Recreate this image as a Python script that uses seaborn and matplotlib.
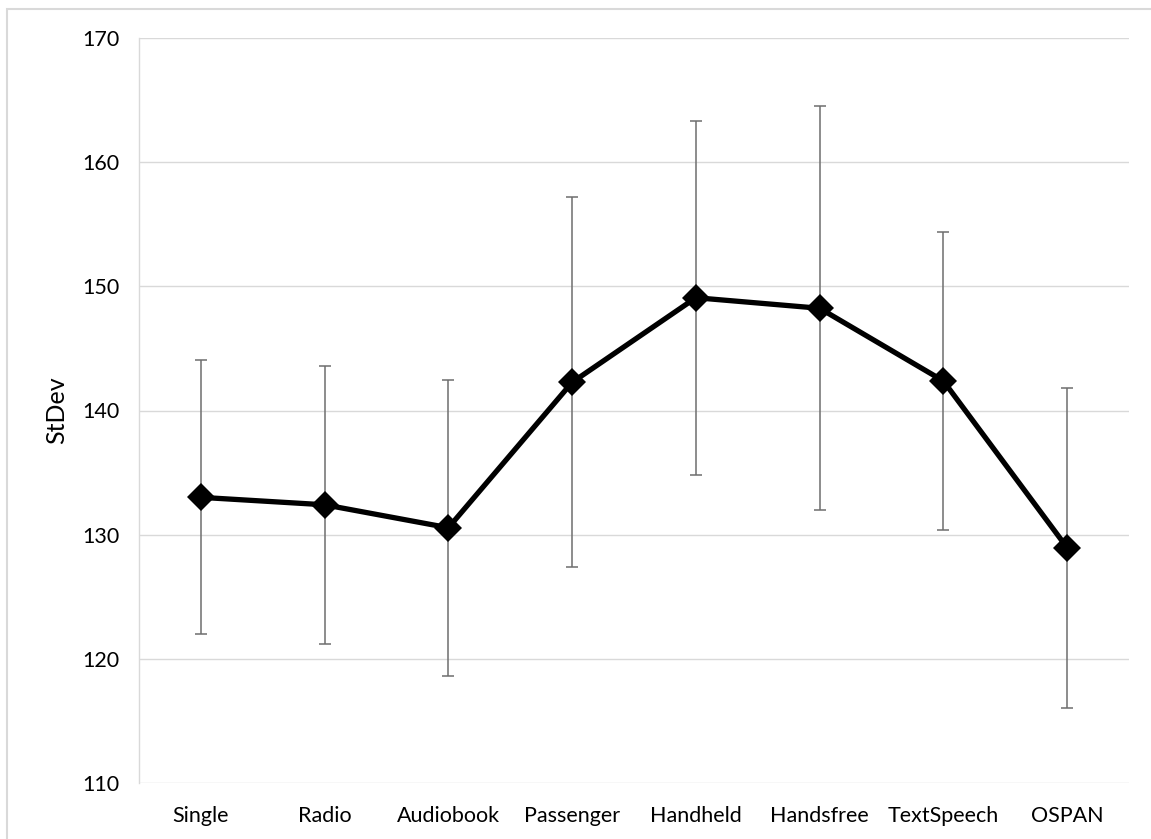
import matplotlib
matplotlib.use("Agg")
import matplotlib.pyplot as plt
import seaborn as sns
import pandas as pd
from matplotlib.patches import Rectangle

categories = ["Single", "Radio", "Audiobook", "Passenger", "Handheld", "Handsfree", "TextSpeech", "OSPAN"]
stdev_mean = [133.0, 132.4, 130.55, 142.27, 149.09, 148.24, 142.38, 128.94]
stdev_err = [11.05, 11.2, 11.94, 14.9, 14.28, 16.27, 12.03, 12.9]
y_ticks = [110, 120, 130, 140, 150, 160, 170]

sns.set_theme(style="white")
plt.rcParams['font.family'] = ['Lato', 'DejaVu Sans']

df = pd.DataFrame({"Condition": categories, "StDev": stdev_mean})

fig = plt.figure(figsize=(11.51, 8.39), dpi=100)
ax = fig.add_axes([139/1151, 1 - 782.7/839, (1129 - 139)/1151, (782.7 - 38.3)/839])

# outer chart border
fig.patches.append(Rectangle((7/1151, 0 - 0.01), 1.05, 1 - 9/839 + 0.01,
                             transform=fig.transFigure, fill=False,
                             edgecolor="#d9d9d9", linewidth=1.5, zorder=0))

ax.errorbar(range(len(categories)), stdev_mean, yerr=stdev_err, fmt="none",
            ecolor="#6e6e6e", elinewidth=1.1, capsize=4.5, capthick=1.1, zorder=2)

sns.pointplot(data=df, x="Condition", y="StDev", order=categories, color="black",
              markers="D", linestyles="-", errorbar=None, ax=ax,
              markersize=14, linewidth=3.8, zorder=3)
for ln in ax.lines:
    if ln.get_marker() == "D":
        ln.set_zorder(4)
        ln.set_markeredgewidth(0)

ax.set_ylim(110, 170)
ax.set_xlim(-0.5, len(categories) - 0.5)
ax.set_yticks(y_ticks)
ax.set_yticklabels([str(t) for t in y_ticks])
ax.yaxis.grid(True, color="#d9d9d9", linewidth=1.0)
ax.set_axisbelow(True)
for side in ["top", "right", "bottom"]:
    ax.spines[side].set_visible(False)
ax.spines["left"].set_color("#d9d9d9")
ax.spines["left"].set_linewidth(1.0)
ax.tick_params(axis="both", length=0, labelsize=15.5, colors="black")
ax.tick_params(axis="y", pad=14)
ax.tick_params(axis="x", pad=17)
ax.set_xlabel("")
ax.set_ylabel("StDev", labelpad=10)
ax.yaxis.label.set_fontsize(18)
ax.yaxis.label.set_color("black")

fig.savefig("out.png", dpi=100)
